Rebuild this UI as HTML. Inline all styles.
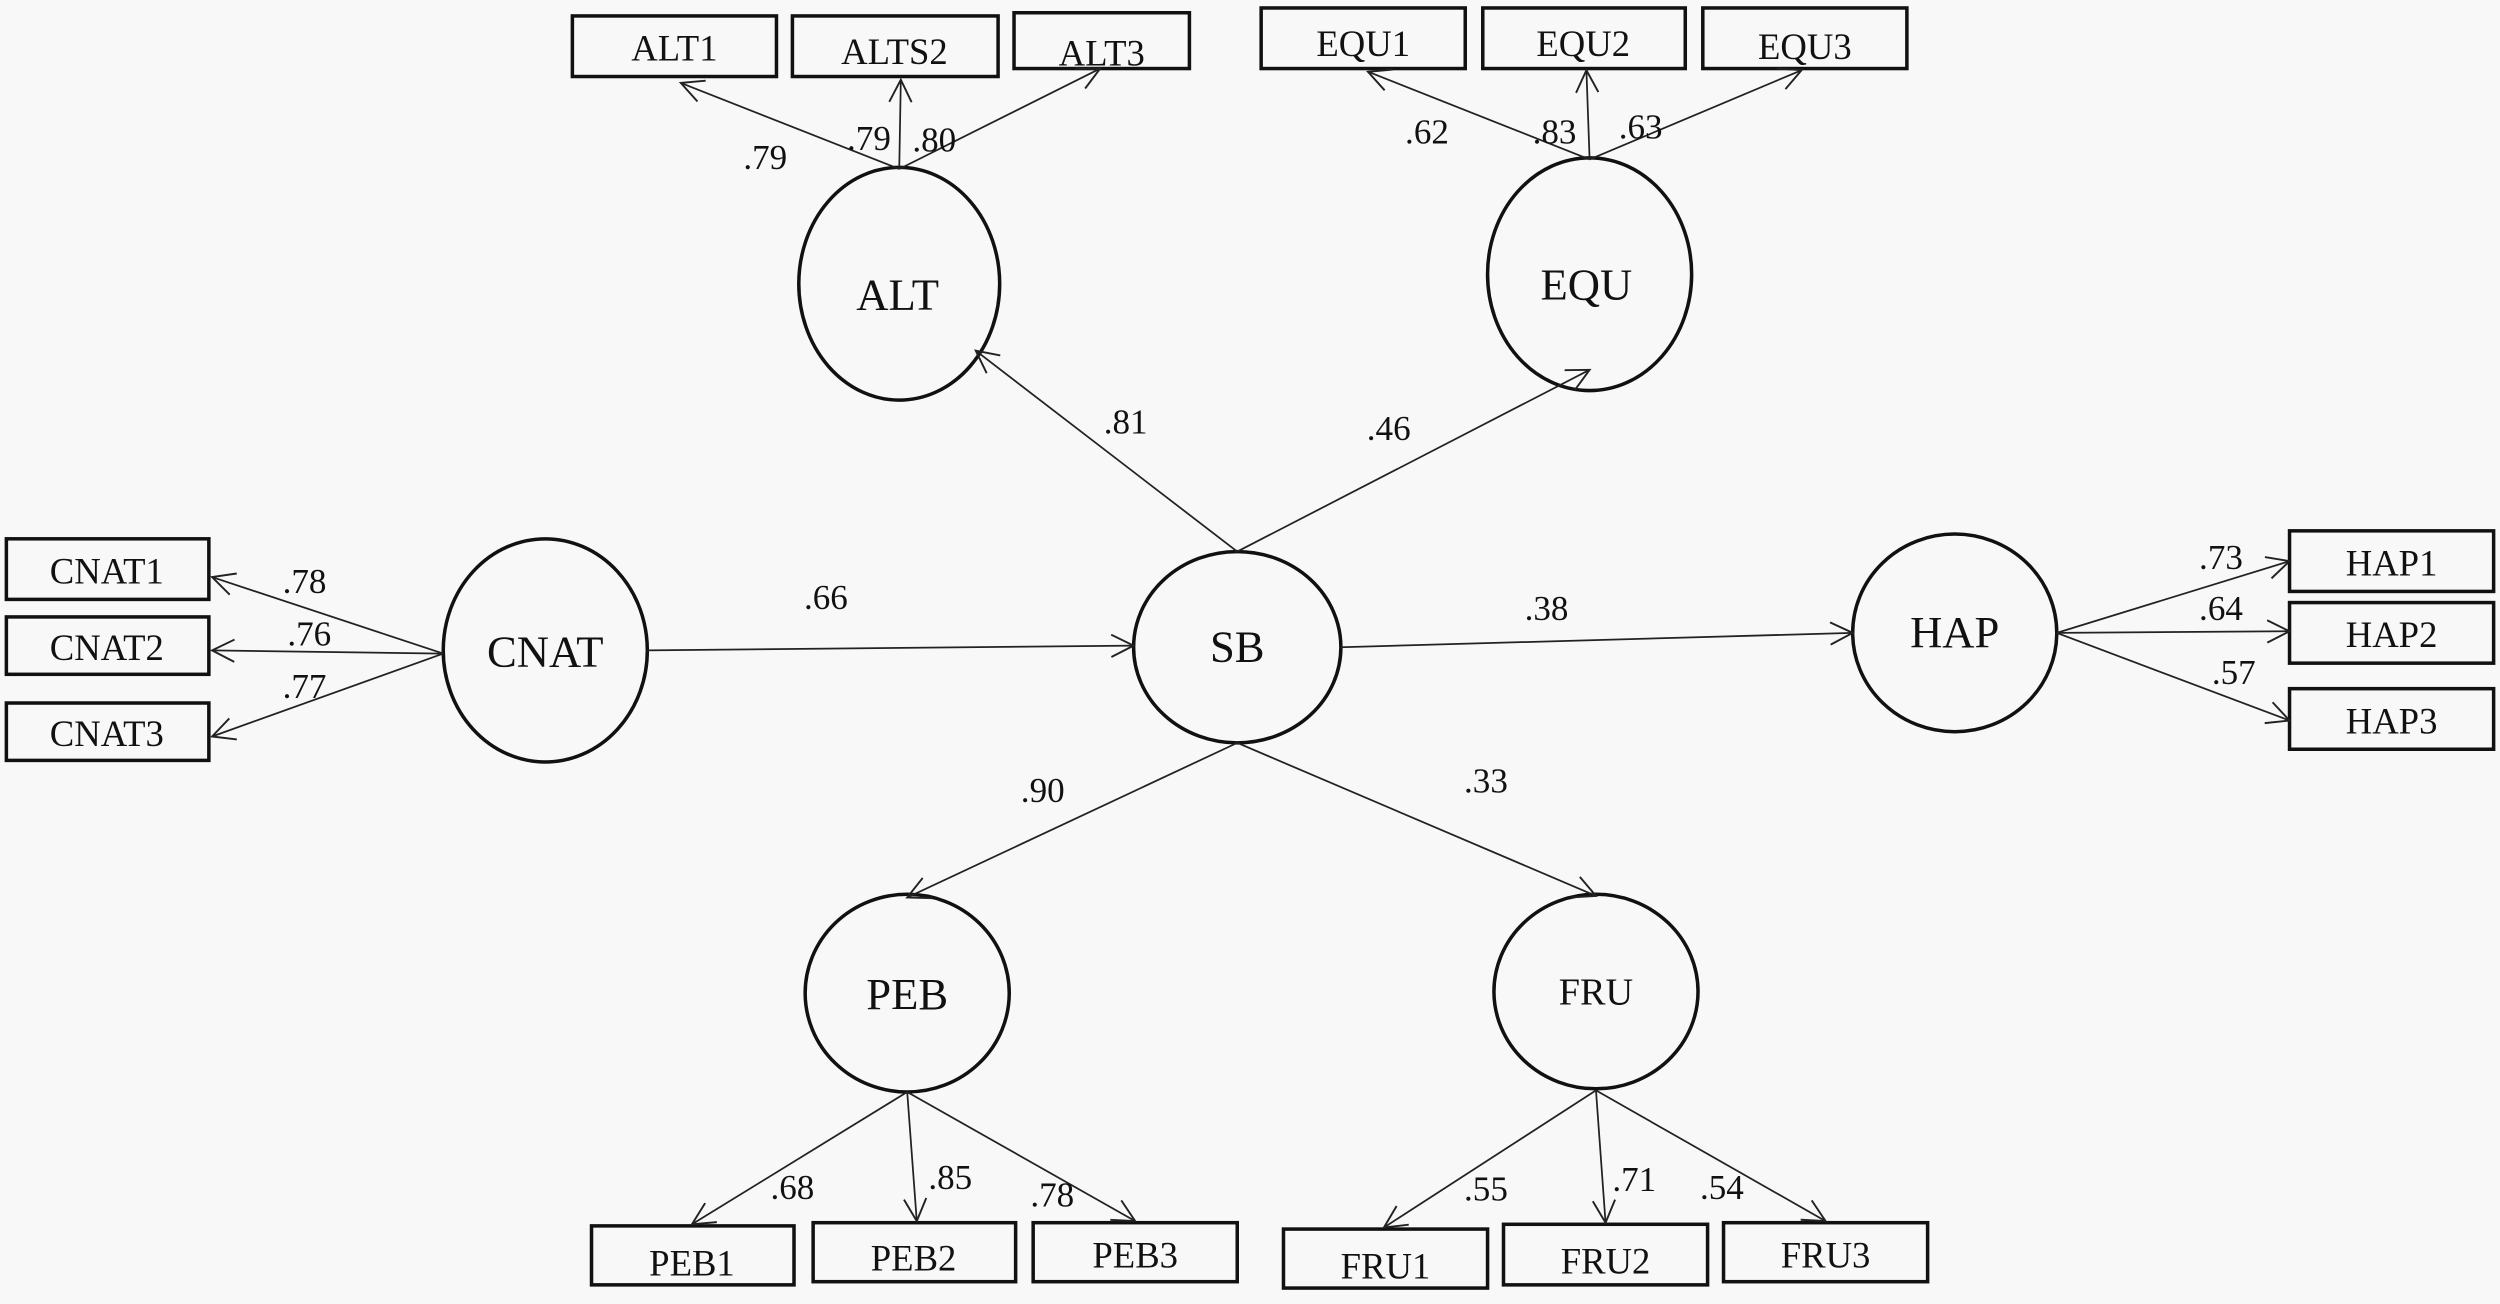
<!DOCTYPE html>
<html><head><meta charset="utf-8"><style>
html,body{margin:0;padding:0;background:#f8f8f8;}
svg{display:block;}
text{font-family:"Liberation Serif",serif;fill:#111;}
.b{font-size:23px;}
.l{font-size:22px;}
.e{font-size:28px;}
</style></head><body>
<svg width="2500" height="1304" viewBox="0 0 1568 818" preserveAspectRatio="none" xmlns="http://www.w3.org/2000/svg">
<defs>
<marker id="a" markerUnits="userSpaceOnUse" markerWidth="30" markerHeight="30" refX="16" refY="8" orient="auto">
<path d="M2,1 L16,8 L2,15" fill="none" stroke="#222" stroke-width="1.2"/>
</marker>
</defs>
<rect width="1568" height="818" fill="#f8f8f8"/>
<g fill="none" stroke="#111" stroke-width="2.2">
<rect x="359" y="10" width="128" height="38"/>
<rect x="497" y="10" width="129" height="38"/>
<rect x="636" y="8" width="110" height="35"/>
<rect x="791" y="5" width="128" height="38"/>
<rect x="930" y="5" width="127" height="38"/>
<rect x="1068" y="5" width="128" height="38"/>
<rect x="4" y="338" width="127" height="38"/>
<rect x="4" y="387" width="127" height="36"/>
<rect x="4" y="441" width="127" height="36"/>
<rect x="1436" y="333" width="128" height="38"/>
<rect x="1436" y="378" width="128" height="38"/>
<rect x="1436" y="432" width="128" height="38"/>
<rect x="371" y="769" width="127" height="37"/>
<rect x="510" y="767" width="127" height="37"/>
<rect x="648" y="767" width="128" height="37"/>
<rect x="805" y="771" width="128" height="37"/>
<rect x="943" y="768" width="128" height="38"/>
<rect x="1081" y="767" width="128" height="37"/>
<ellipse cx="564" cy="178" rx="63" ry="73"/>
<ellipse cx="997" cy="172" rx="64" ry="73"/>
<ellipse cx="342" cy="408" rx="64" ry="70"/>
<ellipse cx="776" cy="406" rx="65" ry="60"/>
<ellipse cx="1226" cy="397" rx="64" ry="62"/>
<ellipse cx="569" cy="623" rx="64" ry="62"/>
<ellipse cx="1001" cy="622" rx="64" ry="61"/>
</g>
<g stroke="#222" stroke-width="1.1" marker-end="url(#a)">
<line x1="564" y1="106" x2="427" y2="52"/>
<line x1="564" y1="106" x2="565" y2="50"/>
<line x1="564" y1="106" x2="690" y2="43"/>
<line x1="997" y1="100" x2="858" y2="45"/>
<line x1="997" y1="100" x2="995" y2="44"/>
<line x1="997" y1="100" x2="1130" y2="44"/>
<line x1="776" y1="346" x2="612" y2="220"/>
<line x1="776" y1="346" x2="997" y2="232"/>
<line x1="406" y1="408" x2="711" y2="405"/>
<line x1="841" y1="406" x2="1162" y2="397"/>
<line x1="776" y1="466" x2="569" y2="563"/>
<line x1="776" y1="466" x2="1001" y2="562"/>
<line x1="278" y1="410" x2="133" y2="362"/>
<line x1="278" y1="410" x2="133" y2="408"/>
<line x1="278" y1="410" x2="133" y2="462"/>
<line x1="1290" y1="397" x2="1436" y2="352"/>
<line x1="1290" y1="397" x2="1436" y2="396"/>
<line x1="1290" y1="397" x2="1436" y2="452"/>
<line x1="569" y1="685" x2="434" y2="768"/>
<line x1="569" y1="685" x2="575" y2="766"/>
<line x1="569" y1="685" x2="712" y2="766"/>
<line x1="1001" y1="684" x2="868" y2="770"/>
<line x1="1001" y1="684" x2="1007" y2="767"/>
<line x1="1001" y1="684" x2="1145" y2="766"/>
</g>
<g class="b" text-anchor="middle">
<text x="423" y="38">ALT1</text>
<text x="561" y="40">ALTS2</text>
<text x="691" y="41">ALT3</text>
<text x="855" y="35">EQU1</text>
<text x="993" y="35">EQU2</text>
<text x="1132" y="37">EQU3</text>
<text x="67" y="366">CNAT1</text>
<text x="67" y="414">CNAT2</text>
<text x="67" y="468">CNAT3</text>
<text x="1500" y="361">HAP1</text>
<text x="1500" y="406">HAP2</text>
<text x="1500" y="460">HAP3</text>
<text x="434" y="800">PEB1</text>
<text x="573" y="797">PEB2</text>
<text x="712" y="795">PEB3</text>
<text x="869" y="802">FRU1</text>
<text x="1007" y="799">FRU2</text>
<text x="1145" y="795">FRU3</text>
</g>
<g class="e" text-anchor="middle">
<text x="563" y="194">ALT</text>
<text x="995" y="188">EQU</text>
<text x="342" y="418">CNAT</text>
<text x="776" y="415">SB</text>
<text x="1226" y="406">HAP</text>
<text x="569" y="633">PEB</text>
<text x="1001" y="630" style="font-size:24px">FRU</text>
</g>
<g class="l" text-anchor="middle">
<text x="480" y="106">.79</text>
<text x="545" y="94">.79</text>
<text x="586" y="95">.80</text>
<text x="895" y="90">.62</text>
<text x="975" y="90">.83</text>
<text x="1029" y="87">.63</text>
<text x="706" y="272">.81</text>
<text x="871" y="276">.46</text>
<text x="191" y="372">.78</text>
<text x="194" y="405">.76</text>
<text x="191" y="438">.77</text>
<text x="518" y="382">.66</text>
<text x="970" y="389">.38</text>
<text x="1393" y="357">.73</text>
<text x="1393" y="389">.64</text>
<text x="1401" y="429">.57</text>
<text x="654" y="503">.90</text>
<text x="932" y="497">.33</text>
<text x="497" y="752">.68</text>
<text x="596" y="746">.85</text>
<text x="660" y="757">.78</text>
<text x="932" y="753">.55</text>
<text x="1025" y="747">.71</text>
<text x="1080" y="752">.54</text>
</g>
</svg>
</body></html>
